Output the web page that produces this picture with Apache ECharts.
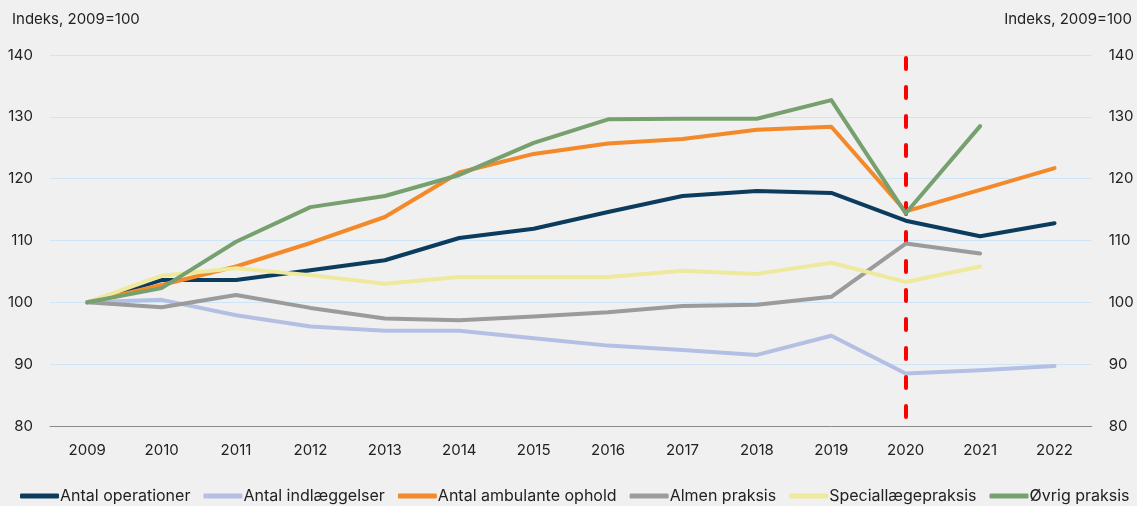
<!DOCTYPE html>
<html>
<head>
<meta charset="utf-8">
<script src="https://cdn.jsdelivr.net/npm/echarts@6/dist/echarts.min.js"></script>
<style>
  html, body { margin: 0; padding: 0; background: #f0f0f0; }
  #chart { width: 1137px; height: 506px; }
</style>
</head>
<body>
<div id="chart"></div>
<script>
// år
const years = ['2009', '2010', '2011', '2012', '2013', '2014', '2015', '2016', '2017', '2018', '2019', '2020', '2021', '2022']
// indeks 2009=100
const operationer = [100, 103.6, 103.6, 105.2, 106.8, 110.4, 111.9, 114.6, 117.2, 118.0, 117.7, 113.2, 110.7, 112.8]
const indlaeggelser = [100, 100.4, 97.9, 96.1, 95.4, 95.4, 94.2, 93.0, 92.3, 91.5, 94.6, 88.5, 89.0, 89.7]
const ambulante = [100, 102.8, 105.8, 109.6, 113.8, 121.0, 124.0, 125.7, 126.4, 127.9, 128.4, 114.7, 118.2, 121.7]
const almen = [100, 99.2, 101.2, 99.1, 97.4, 97.1, 97.7, 98.4, 99.4, 99.6, 100.9, 109.5, 107.9, null]
const speciallaege = [100, 104.3, 105.5, 104.4, 103.0, 104.1, 104.1, 104.1, 105.1, 104.6, 106.4, 103.3, 105.8, null]
const oevrig = [100, 102.3, 109.8, 115.4, 117.2, 120.6, 125.8, 129.6, 129.7, 129.7, 132.7, 114.4, 128.5, null]

const names = ['Antal operationer', 'Antal indlæggelser', 'Antal ambulante ophold', 'Almen praksis', 'Speciallægepraksis', 'Øvrig praksis']
const colors = ['#0b3b5d', '#b3c0e4', '#f4892a', '#9b9b9b', '#eee99c', '#77a06f']
const values = [operationer, indlaeggelser, ambulante, almen, speciallaege, oevrig]

const font = 'Inter, "Noto Sans", sans-serif'

const myChart = echarts.init(document.getElementById('chart'))

const series = names.map((n, i) => ({
  name: n,
  type: 'line',
  data: values[i],
  symbol: 'none',
  lineStyle: { width: 4, color: colors[i], cap: 'round', join: 'round' },
  itemStyle: { color: colors[i] },
  z: 2 + i
}))

// stiplet linje ved 2020
series.push({
  name: 'markering',
  type: 'line',
  data: [],
  z: 20,
  markLine: {
    silent: true,
    symbol: 'none',
    label: { show: false },
    lineStyle: { color: '#ff0000', width: 4, type: [11, 18], cap: 'round' },
    data: [[{ coord: ['2020', 139.5] }, { coord: ['2020', 81.3] }]]
  }
})

const yAxisBase = {
  type: 'value',
  min: 80,
  max: 140,
  interval: 10,
  axisLine: { show: false },
  axisTick: { show: false },
  axisLabel: { color: '#222', fontSize: 15, fontFamily: font, margin: 17 }
}

const titleStyle = { fontSize: 15, fontWeight: 'normal', color: '#222', fontFamily: font }

const option = {
  backgroundColor: '#f0f0f0',
  animation: false,
  title: [
    { text: 'Indeks, 2009=100', left: 12, top: 12, padding: 0, textStyle: titleStyle },
    { text: 'Indeks, 2009=100', right: 5, top: 12, padding: 0, textStyle: titleStyle }
  ],
  grid: { left: 50, right: 43, top: 55, bottom: 80 },
  legend: {
    data: names,
    top: 488,
    left: 20,
    padding: 0,
    icon: 'roundRect',
    itemWidth: 39,
    itemHeight: 5,
    itemGap: 13,
    textStyle: { color: '#222', fontSize: 16, fontFamily: font, padding: [0, 0, 0, -4] }
  },
  xAxis: {
    type: 'category',
    data: years,
    boundaryGap: true,
    axisLine: { lineStyle: { color: '#8a8a8a', width: 1 } },
    axisTick: { show: false },
    axisLabel: { color: '#222', fontSize: 15, fontFamily: font, margin: 17 }
  },
  yAxis: [
    Object.assign({}, yAxisBase, {
      position: 'left',
      splitLine: { lineStyle: { color: '#cfe5f6', width: 1 } }
    }),
    Object.assign({}, yAxisBase, {
      position: 'right',
      splitLine: { show: false }
    })
  ],
  series: series
}

myChart.setOption(option)
window.addEventListener('resize', function() {
  myChart.resize()
})
</script>
</body>
</html>
